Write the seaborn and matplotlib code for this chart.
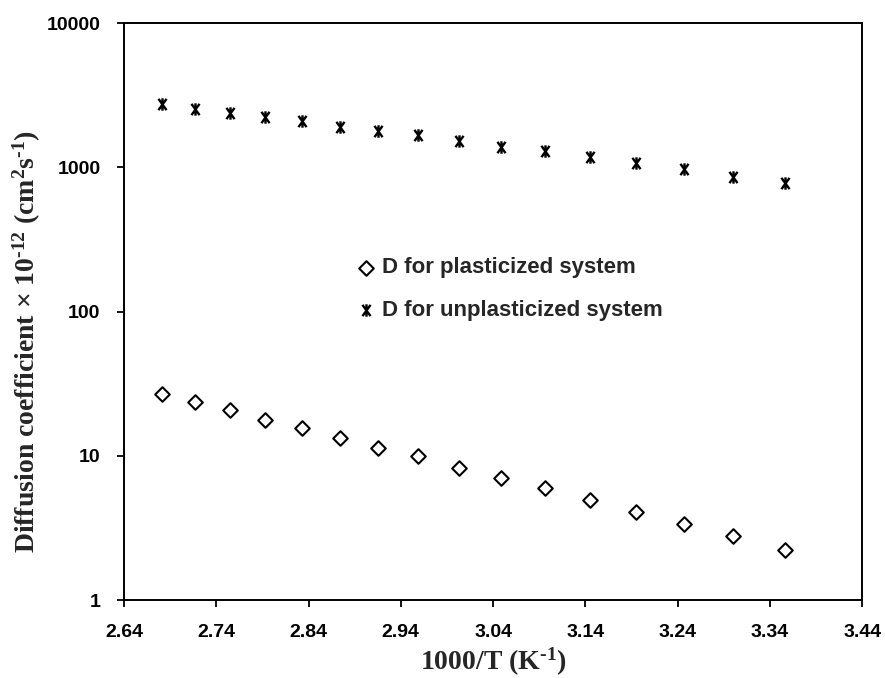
import matplotlib
matplotlib.use("Agg")
import matplotlib.pyplot as plt
from matplotlib.path import Path
import seaborn as sns
import pandas as pd

# Inverse temperature, 1000/T (K^-1), for T = 373 K down to 298 K
inv_temp = [2.681, 2.717, 2.755, 2.793, 2.833, 2.874, 2.915, 2.959,
            3.003, 3.049, 3.096, 3.145, 3.195, 3.247, 3.300, 3.356]

# Diffusion coefficients (x 10^-12 cm^2 s^-1)
d_plasticized = [26.7, 23.5, 20.7, 17.6, 15.5, 13.2, 11.3, 9.9,
                 8.2, 6.98, 5.95, 4.91, 4.07, 3.36, 2.79, 2.23]
d_unplasticized = [2732, 2546, 2389, 2241, 2102, 1910, 1792, 1673,
                   1528, 1388, 1302, 1183, 1075, 977, 860, 782]

series_names = ["D for plasticized system", "D for unplasticized system"]
x_ticks = [2.64, 2.74, 2.84, 2.94, 3.04, 3.14, 3.24, 3.34, 3.44]
y_ticks = [1, 10, 100, 1000, 10000]
y_tick_labels = ["1", "10", "100", "1000", "10000"]

sns.set_style("ticks")
plt.rcParams["font.family"] = ["Liberation Sans", "DejaVu Sans"]
plt.rcParams["mathtext.fontset"] = "custom"
plt.rcParams["mathtext.rm"] = "Liberation Serif:bold"
plt.rcParams["mathtext.it"] = "Liberation Serif:bold"
plt.rcParams["mathtext.bf"] = "Liberation Serif:bold"

df = pd.concat([
    pd.DataFrame({"x": inv_temp, "D": d_plasticized, "series": series_names[0]}),
    pd.DataFrame({"x": inv_temp, "D": d_unplasticized, "series": series_names[1]}),
])

# asterisk-like marker: an X with a vertical bar through it
star = Path(
    [(-0.36, -0.5), (0.36, 0.5), (-0.36, 0.5), (0.36, -0.5), (0.0, -0.55), (0.0, 0.55)],
    [Path.MOVETO, Path.LINETO, Path.MOVETO, Path.LINETO, Path.MOVETO, Path.LINETO],
)

fig = plt.figure(figsize=(8.85, 6.78), dpi=100)
ax = fig.add_axes([0.1401, 0.115, 0.834, 0.851])

sns.scatterplot(data=df[df.series == series_names[0]], x="x", y="D", ax=ax,
                marker="D", s=55, facecolor="white", edgecolor="black",
                linewidth=1.5, label=series_names[0], zorder=3)
sns.scatterplot(data=df[df.series == series_names[1]], x="x", y="D", ax=ax,
                marker=star, s=80, color="black", edgecolor="black",
                linewidth=1.7, label=series_names[1], zorder=3)

ax.set_yscale("log")
ax.set_xlim(2.64, 3.44)
ax.set_ylim(1, 10000)
ax.set_xticks(x_ticks)
ax.set_xticklabels([f"{t:.2f}" for t in x_ticks])
ax.set_yticks(y_ticks)
ax.set_yticklabels(y_tick_labels)
ax.yaxis.set_minor_locator(matplotlib.ticker.NullLocator())

for lab in ax.get_xticklabels() + ax.get_yticklabels():
    lab.set_fontweight("bold")
    lab.set_fontsize(14)

ax.tick_params(axis="both", which="major", direction="out", length=5,
               width=1.3, color="black", labelcolor="black")
ax.tick_params(axis="x", pad=12)
ax.tick_params(axis="y", pad=12)
for sp in ax.spines.values():
    sp.set_visible(True)
    sp.set_linewidth(1.4)
    sp.set_color("black")

ax.set_xlabel(r"1000/T (K$^{\text{-1}}$)", fontsize=20, fontweight="bold",
              family="Liberation Serif", labelpad=4)
ax.set_ylabel(r"Diffusion coefficient $\times$ 10$^{\text{-12}}$ (cm$^{2}$s$^{\text{-1}}$)",
              fontsize=20, fontweight="bold", family="Liberation Serif")
ax.yaxis.set_label_coords(-0.11, 0.447)

leg = ax.legend(loc="center left", bbox_to_anchor=(0.292, 0.539), frameon=False,
                handlelength=0.6, handletextpad=0.4, labelspacing=0.95,
                borderpad=0.4,
                prop={"weight": "bold", "size": 16, "family": "Liberation Sans"})

fig.savefig("out.png", dpi=100)
